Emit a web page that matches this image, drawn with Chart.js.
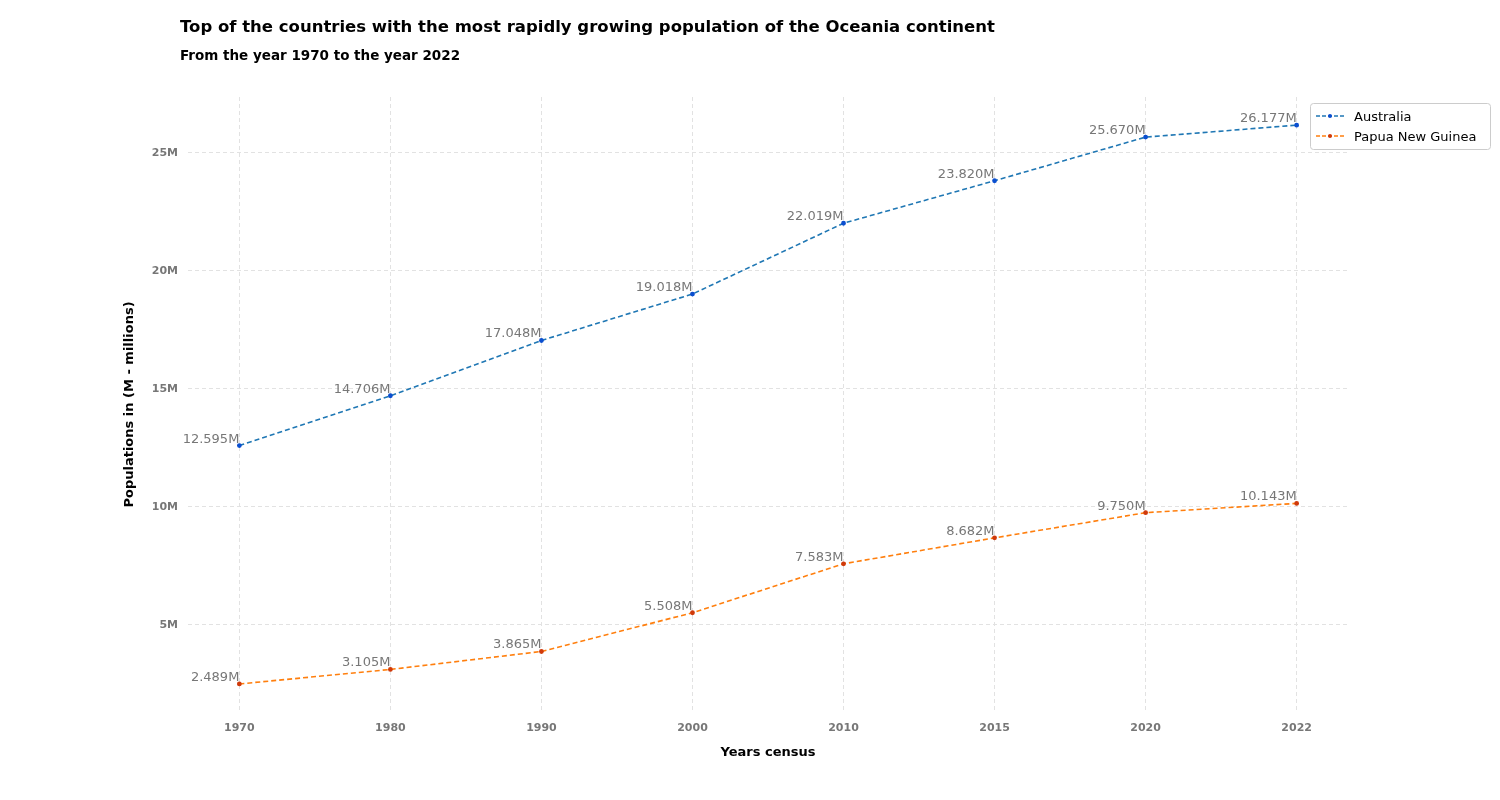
<!DOCTYPE html>
<html><head><meta charset="utf-8">
<script src="https://cdn.jsdelivr.net/npm/chart.js@4"></script>
<style>body{margin:0;background:#fff}#c{width:1500px;height:800px}</style>
</head><body><div id="c"><canvas id="cv"></canvas></div>
<script>
// ── Data ─────────────────────────────────────
const years     = ['1970', '1980', '1990', '2000', '2010', '2015', '2020', '2022'];
const australia = [12.595, 14.706, 17.048, 19.018, 22.019, 23.820, 25.670, 26.177];
const papua     = [2.489, 3.105, 3.865, 5.508, 7.583, 8.682, 9.750, 10.143];
const yTicks    = [5, 10, 15, 20, 25];

const FONT = 'DejaVu Sans';
const GREY = '#777';

// ── Titles, point labels, legend ─────────────
const decor = {
  id: 'decor',
  afterDraw(chart) {
    const ctx = chart.ctx;
    ctx.save();
    ctx.textBaseline = 'alphabetic';
    ctx.fillStyle = '#000';
    ctx.textAlign = 'left';
    ctx.font = 'bold 16.5px ' + FONT;
    ctx.fillText('Top of the countries with the most rapidly growing population of the Oceania continent', 180, 32);
    ctx.font = 'bold 13.5px ' + FONT;
    ctx.fillText('From the year 1970 to the year 2022', 180, 60);

    // value labels
    ctx.font = '13px ' + FONT;
    ctx.fillStyle = GREY;
    ctx.textAlign = 'right';
    chart.data.datasets.forEach((ds, i) => {
      chart.getDatasetMeta(i).data.forEach((pt, j) => {
        ctx.fillText(ds.data[j].y.toFixed(3) + 'M', pt.x, pt.y - 3);
      });
    });

    // legend
    const lx = 1310, ly = 103;
    ctx.fillStyle = 'rgba(255,255,255,0.85)';
    ctx.strokeStyle = '#ccc';
    ctx.lineWidth = 1;
    ctx.beginPath();
    ctx.roundRect(lx + 0.5, ly + 0.5, 180, 46, 3);
    ctx.fill(); ctx.stroke();
    ctx.textAlign = 'left';
    ctx.font = '13px ' + FONT;
    chart.data.datasets.forEach((ds, i) => {
      const y = ly + 13 + i * 20;
      ctx.strokeStyle = ds.borderColor;
      ctx.lineWidth = 1.5;
      ctx.setLineDash([4, 2]);
      ctx.beginPath(); ctx.moveTo(lx + 6, y); ctx.lineTo(lx + 34, y); ctx.stroke();
      ctx.setLineDash([]);
      ctx.fillStyle = ds.pointBackgroundColor;
      ctx.beginPath(); ctx.arc(lx + 20, y, 2, 0, Math.PI * 2); ctx.fill();
      ctx.fillStyle = '#000';
      ctx.fillText(ds.label, lx + 44, y + 5);
    });
    ctx.restore();
  },
};

const GRID   = { color: '#e2e2e2', drawTicks: false };
const BORDER = { display: false, dash: [4, 3] };

new Chart(document.getElementById('cv'), {
  type: 'line',
  data: {
    datasets: [
      {
        label: 'Australia',
        data: australia.map((v, i) => ({ x: i, y: v })),
        borderColor: '#1f77b4', pointBackgroundColor: '#0b4fd0', pointBorderColor: '#0b4fd0',
        borderWidth: 1.6, borderDash: [5, 3], pointRadius: 1.6, tension: 0,
      },
      {
        label: 'Papua New Guinea',
        data: papua.map((v, i) => ({ x: i, y: v })),
        borderColor: '#ff7f0e', pointBackgroundColor: '#d03a0b', pointBorderColor: '#d03a0b',
        borderWidth: 1.6, borderDash: [5, 3], pointRadius: 1.6, tension: 0,
      },
    ],
  },
  options: {
    responsive: true,
    maintainAspectRatio: false,
    animation: false,
    layout: { padding: { left: 118, right: 152, top: 97, bottom: 36 } },
    plugins: { legend: { display: false }, tooltip: { enabled: false } },
    scales: {
      x: {
        type: 'linear', min: -0.34, max: 7.34,
        grid: GRID, border: BORDER,
        afterBuildTicks: s => { s.ticks = years.map((_, i) => ({ value: i })); },
        afterFit: s => { s.height = 52; },
        ticks: { callback: v => years[v], color: GREY, padding: 10, font: { family: FONT, size: 11, weight: 'bold' } },
        title: { display: true, text: 'Years census', color: '#000', padding: { top: 10 }, font: { family: FONT, size: 13, weight: 'bold' } },
      },
      y: {
        min: 1.3, max: 27.37,
        grid: GRID, border: BORDER,
        afterBuildTicks: s => { s.ticks = yTicks.map(v => ({ value: v })); },
        afterFit: s => { s.width = 70; },
        ticks: { callback: v => v + 'M', color: GREY, padding: 10, font: { family: FONT, size: 11, weight: 'bold' } },
        title: { display: true, text: 'Populations in (M - millions)', color: '#000', font: { family: FONT, size: 13, weight: 'bold' } },
      },
    },
  },
  plugins: [decor],
});
</script></body></html>
